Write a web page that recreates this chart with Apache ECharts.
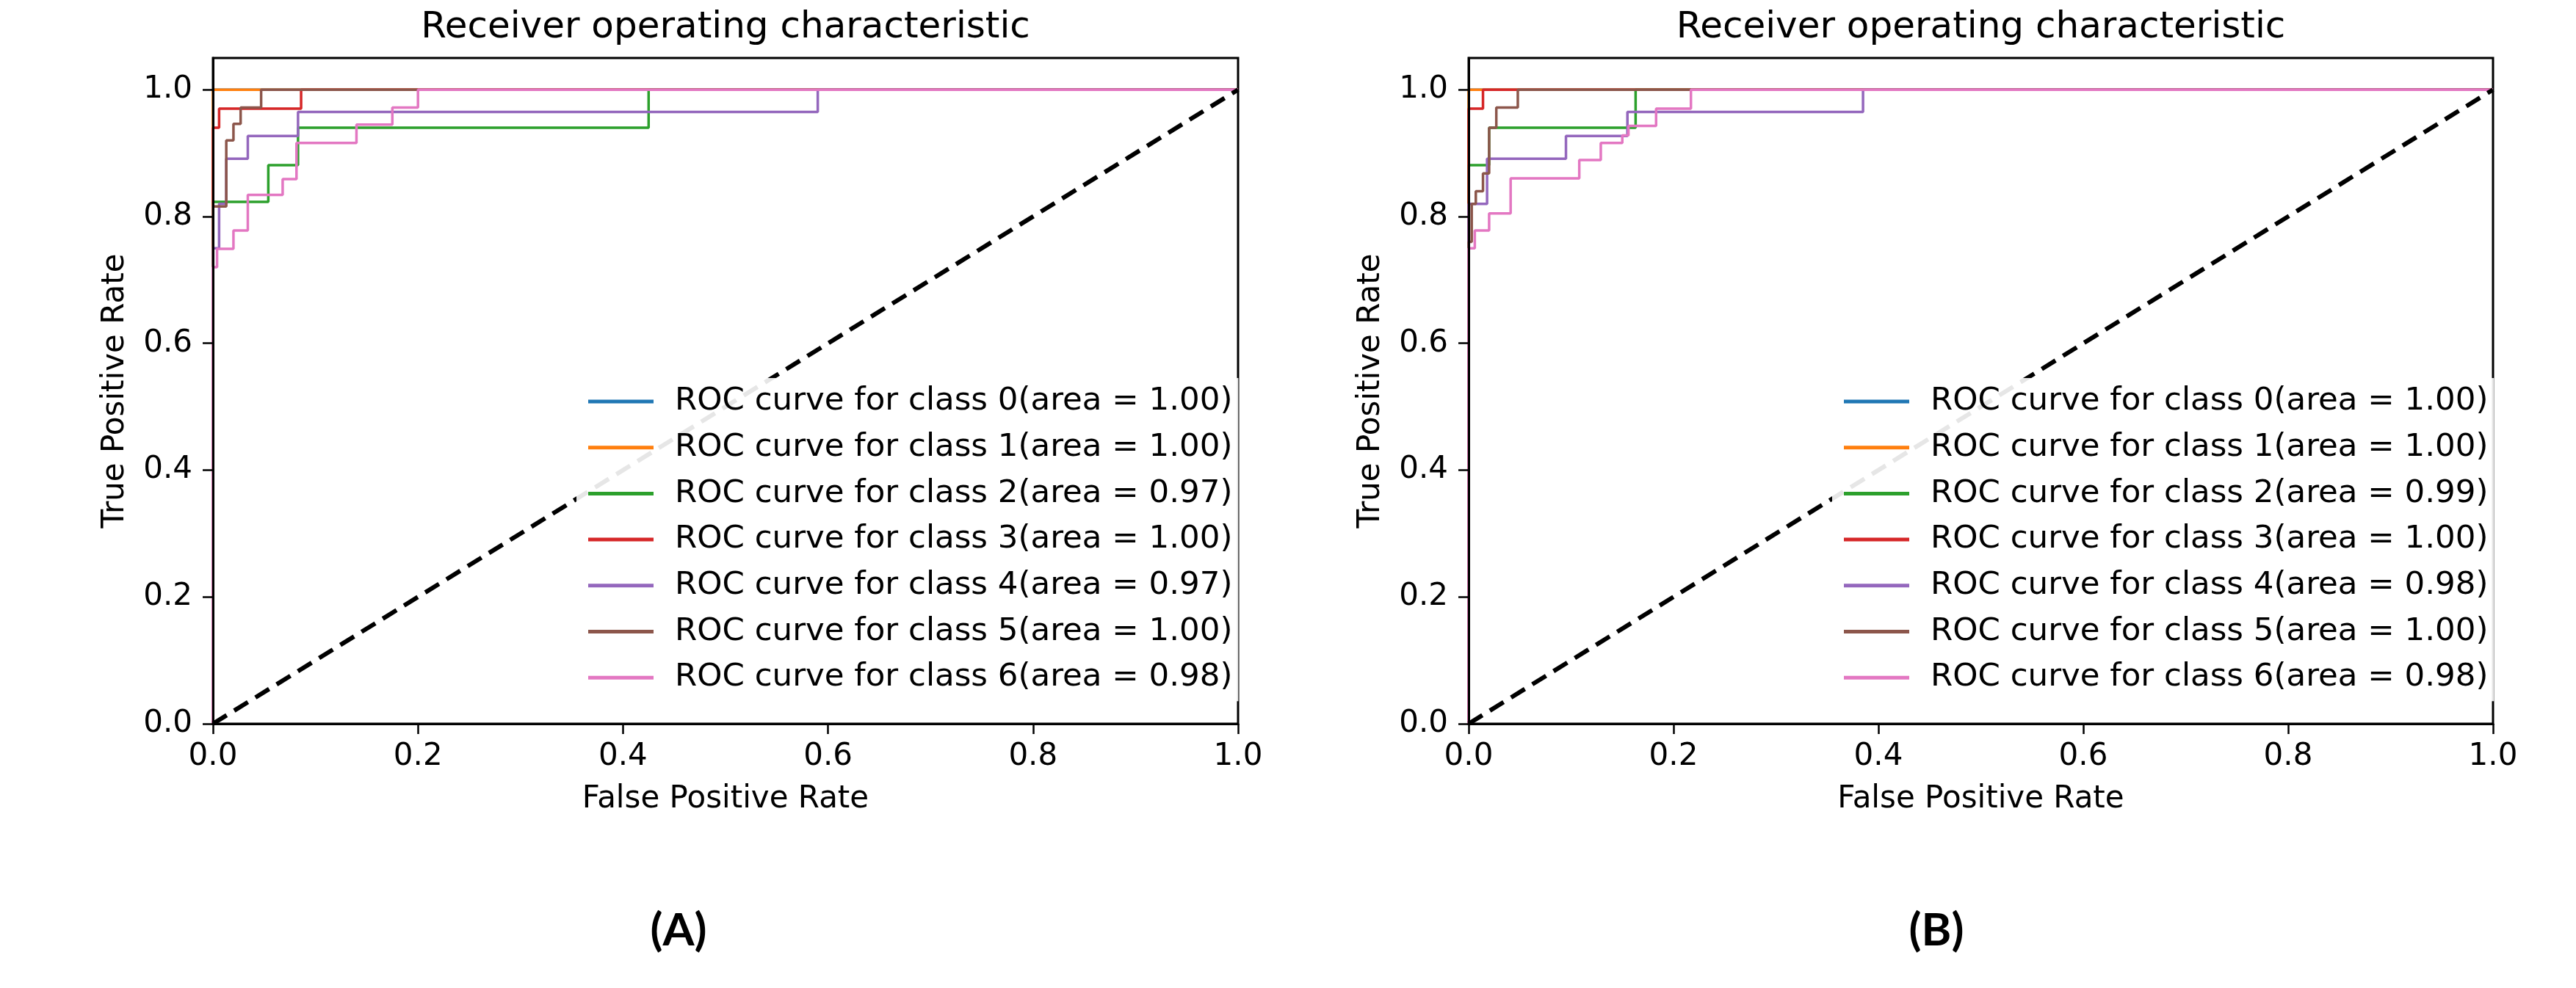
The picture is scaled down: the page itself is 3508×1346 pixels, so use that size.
<!DOCTYPE html>
<html>
<head>
<meta charset="utf-8">
<script src="https://cdn.jsdelivr.net/npm/echarts@6/dist/echarts.min.js"></script>
<style>
  html, body { margin: 0; padding: 0; background: #fff; }
  #wrap { width: 3508px; height: 1346px; display: flex; }
  .panel { width: 1754px; height: 1346px; }
</style>
</head>
<body>
<div id="wrap">
  <div id="chartA" class="panel"></div>
  <div id="chartB" class="panel"></div>
</div>
<script>
// data
const classLabels = ['0', '1', '2', '3', '4', '5', '6'];
const classColors = ['#1f77b4', '#ff7f0e', '#2ca02c', '#d62728', '#9467bd', '#8c564b', '#e377c2'];
const areasA = ['1.00', '1.00', '0.97', '1.00', '0.97', '1.00', '0.98'];
const areasB = ['1.00', '1.00', '0.99', '1.00', '0.98', '1.00', '0.98'];
const tickValues = [0, 0.2, 0.4, 0.6, 0.8, 1.0];
const chanceLine = [[0, 0], [1, 1]];

// panel A curves, [fpr, tpr]
const rocA0 = [[0, 0], [0, 1], [1, 1]];
const rocA1 = [[0, 0], [0, 1], [1, 1]];
const rocA2 = [[0, 0], [0, 0.823], [0.054, 0.823], [0.054, 0.881], [0.083, 0.881], [0.083, 0.94], [0.425, 0.94], [0.425, 1], [1, 1]];
const rocA3 = [[0, 0], [0, 0.94], [0.006, 0.94], [0.006, 0.97], [0.086, 0.97], [0.086, 1], [1, 1]];
const rocA4 = [[0, 0], [0, 0.75], [0.006, 0.75], [0.006, 0.82], [0.013, 0.82], [0.013, 0.891], [0.034, 0.891], [0.034, 0.927], [0.083, 0.927], [0.083, 0.965], [0.59, 0.965], [0.59, 1], [1, 1]];
const rocA5 = [[0, 0], [0, 0.816], [0.013, 0.816], [0.013, 0.92], [0.02, 0.92], [0.02, 0.946], [0.027, 0.946], [0.027, 0.972], [0.047, 0.972], [0.047, 1], [1, 1]];
const rocA6 = [[0, 0], [0, 0.72], [0.004, 0.72], [0.004, 0.749], [0.02, 0.749], [0.02, 0.778], [0.034, 0.778], [0.034, 0.834], [0.068, 0.834], [0.068, 0.859], [0.0815, 0.859], [0.0815, 0.916], [0.14, 0.916], [0.14, 0.945], [0.175, 0.945], [0.175, 0.972], [0.2, 0.972], [0.2, 1], [1, 1]];

// panel B curves
const rocB0 = [[0, 0], [0, 1], [1, 1]];
const rocB1 = [[0, 0], [0, 1], [1, 1]];
const rocB2 = [[0, 0], [0, 0.881], [0.02, 0.881], [0.02, 0.94], [0.163, 0.94], [0.163, 1], [1, 1]];
const rocB3 = [[0, 0], [0, 0.97], [0.014, 0.97], [0.014, 1], [1, 1]];
const rocB4 = [[0, 0], [0, 0.82], [0.018, 0.82], [0.018, 0.891], [0.095, 0.891], [0.095, 0.927], [0.155, 0.927], [0.155, 0.965], [0.385, 0.965], [0.385, 1], [1, 1]];
const rocB5 = [[0, 0], [0, 0.76], [0.003, 0.76], [0.003, 0.82], [0.007, 0.82], [0.007, 0.84], [0.014, 0.84], [0.014, 0.868], [0.02, 0.868], [0.02, 0.94], [0.027, 0.94], [0.027, 0.972], [0.048, 0.972], [0.048, 1], [1, 1]];
const rocB6 = [[0, 0], [0, 0.75], [0.006, 0.75], [0.006, 0.778], [0.02, 0.778], [0.02, 0.805], [0.041, 0.805], [0.041, 0.86], [0.108, 0.86], [0.108, 0.889], [0.129, 0.889], [0.129, 0.916], [0.15, 0.916], [0.15, 0.928], [0.156, 0.928], [0.156, 0.943], [0.183, 0.943], [0.183, 0.97], [0.217, 0.97], [0.217, 1], [1, 1]];

const fontFam = "'DejaVu Sans', sans-serif";

function buildPanel(domId, curves, areas, grid, tag, tagX) {
    let names = classLabels.map((c, i) => `ROC curve for class ${c}(area = ${areas[i]})`);
    let series = curves.map((d, i) => ({
        name: names[i],
        type: 'line',
        data: d,
        symbol: 'none',
        animation: false,
        lineStyle: { color: classColors[i], width: 3.5 },
        itemStyle: { color: classColors[i] }
    }));
    series.push({
        name: 'chance',
        type: 'line',
        data: chanceLine,
        symbol: 'none',
        animation: false,
        lineStyle: { color: '#000', width: 6, type: [22, 12] }
    });
    let midX = grid.left + (1754 - grid.left - grid.right) / 2;
    let chart = echarts.init(document.getElementById(domId));
    chart.setOption({
        backgroundColor: '#fff',
        textStyle: { fontFamily: fontFam },
        grid: { left: grid.left, right: grid.right, top: 79, bottom: 360, show: true, borderColor: '#000', borderWidth: 3, backgroundColor: 'transparent' },
        xAxis: {
            type: 'value', min: 0, max: 1, z: 5,
            name: 'False Positive Rate', nameLocation: 'middle', nameGap: 82,
            nameTextStyle: { fontSize: 42, color: '#000', fontFamily: fontFam },
            axisLine: { show: true, onZero: false, lineStyle: { color: '#000', width: 3 } },
            axisTick: { show: true, length: 14, lineStyle: { color: '#000', width: 2.5 }, customValues: tickValues },
            axisLabel: { fontSize: 42, color: '#000', margin: 24, fontFamily: fontFam, customValues: tickValues, formatter: v => v.toFixed(1) },
            splitLine: { show: false }
        },
        yAxis: {
            type: 'value', min: 0, max: 1.05, z: 5,
            name: 'True Positive Rate', nameLocation: 'middle', nameGap: 112,
            nameTextStyle: { fontSize: 42, color: '#000', fontFamily: fontFam },
            axisLine: { show: true, onZero: false, lineStyle: { color: '#000', width: 3 } },
            axisTick: { show: true, length: 14, lineStyle: { color: '#000', width: 2.5 }, customValues: tickValues },
            axisLabel: { fontSize: 42, color: '#000', margin: 28, fontFamily: fontFam, customValues: tickValues, formatter: v => v.toFixed(1) },
            splitLine: { show: false }
        },
        legend: {
            data: names,
            orient: 'vertical',
            left: grid.left + 495,
            top: 515,
            padding: [10, 8, 10, 16],
            icon: 'rect',
            itemWidth: 89,
            itemHeight: 5,
            itemGap: 18.7,
            backgroundColor: 'rgba(255,255,255,0.9)',
            borderWidth: 0,
            textStyle: { fontSize: 43.5, lineHeight: 44, color: '#000', fontFamily: fontFam, padding: [0, 0, 0, 24] }
        },
        graphic: [
            { type: 'text', x: midX, y: 38, style: { text: 'Receiver operating characteristic', fill: '#000', font: `50px ${fontFam}`, textAlign: 'center', textVerticalAlign: 'middle' } },
            { type: 'text', x: tagX, y: 1268, style: { text: tag, fill: '#000', font: `bold 62px Lato, 'Open Sans', sans-serif`, textAlign: 'center', textVerticalAlign: 'middle' } }
        ],
        series: series
    });
    return chart;
}

buildPanel('chartA', [rocA0, rocA1, rocA2, rocA3, rocA4, rocA5, rocA6], areasA, { left: 290, right: 68 }, '(A)', 924);
buildPanel('chartB', [rocB0, rocB1, rocB2, rocB3, rocB4, rocB5, rocB6], areasB, { left: 246, right: 113 }, '(B)', 883);
</script>
</body>
</html>
